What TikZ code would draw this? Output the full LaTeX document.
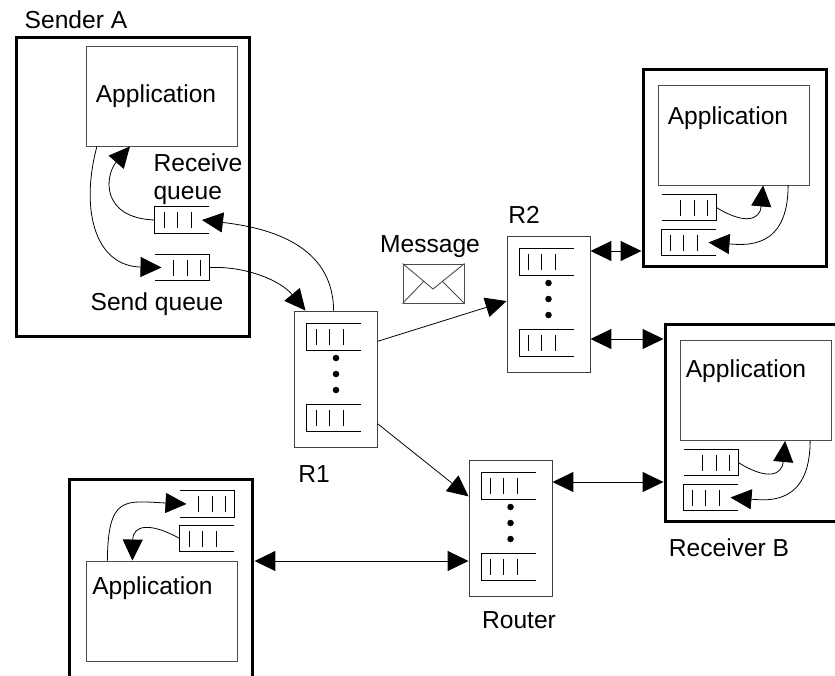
\documentclass[tikz,border=0pt]{standalone}
\usepackage{fontspec}
\setmainfont{Liberation Sans}
\usetikzlibrary{arrows.meta}
\tikzset{
    txt/.style={font=\fontsize{14}{16}\selectfont, inner sep=0pt},
    hostbox/.style={draw, line width=1.7pt, inner sep=0pt},
    appbox/.style={draw=black!70, line width=0.55pt, minimum width=3.02cm, minimum height=2cm, inner sep=0pt},
    routerbox/.style={draw=black!75, line width=0.55pt, minimum width=1.66cm, minimum height=2.72cm, inner sep=0pt},
    queuebox/.style={minimum width=1.08cm, minimum height=0.52cm, inner sep=0pt},
    qline/.style={line width=0.5pt},
    rdot/.style={circle, fill, minimum size=0.13cm, inner sep=0pt},
    link/.style={-{Triangle[length=0.42cm, width=0.4cm]}, line width=0.45pt},
    duplex/.style={{Triangle[length=0.42cm, width=0.4cm]}-{Triangle[length=0.42cm, width=0.4cm]}, line width=0.55pt}
}
% queue closed on the left: name, x, y
\newcommand{\queueleft}[3]{
    \node[queuebox] at (#2, #3) (#1) {};
    \coordinate (#1in) at (#2+20, #3);
    \draw[qline] (#1.north east) -- (#1.north west) -- (#1.south west) -- (#1.south east);
    \draw[qline] (#2-18, #3-8) -- (#2-18, #3+8);
    \draw[qline] (#2-5, #3-8) -- (#2-5, #3+8);
    \draw[qline] (#2+9, #3-8) -- (#2+9, #3+8);
}
% queue closed on the right: name, x, y
\newcommand{\queueright}[3]{
    \node[queuebox] at (#2, #3) (#1) {};
    \coordinate (#1in) at (#2-21, #3);
    \draw[qline] (#1.north west) -- (#1.north east) -- (#1.south east) -- (#1.south west);
    \draw[qline] (#2+18, #3-8) -- (#2+18, #3+8);
    \draw[qline] (#2+5, #3-8) -- (#2+5, #3+8);
    \draw[qline] (#2-9, #3-8) -- (#2-9, #3+8);
}
% router with two queues and three dots: name, x, y
\newcommand{\router}[3]{
    \node[routerbox] at (#2, #3) (#1) {};
    \queueleft{#1a}{#2-2}{#3-42}
    \queueleft{#1b}{#2-2}{#3+39}
    \node[rdot] at (#2, #3-21) (#1d1) {};
    \node[rdot] at (#2, #3-5) (#1d2) {};
    \node[rdot] at (#2, #3+11) (#1d3) {};
}
\begin{document}
\begin{tikzpicture}[x=0.02cm, y=-0.02cm]
    \path[use as bounding box, clip] (0, 0) rectangle (835, 676);

    % hosts
    \node[hostbox, minimum width=4.68cm, minimum height=6cm] at (133, 187) (sender) {};
    \node[hostbox, minimum width=3.68cm, minimum height=3.96cm] at (735, 168) (hosttop) {};
    \node[hostbox, minimum width=3.68cm, minimum height=3.96cm] at (757, 423) (receiver) {};
    \node[hostbox, minimum width=3.68cm, minimum height=4.04cm] at (161, 580) (hostleft) {};

    \node[appbox] at (161.5, 96) (appsender) {};
    \node[appbox] at (734, 135) (apptop) {};
    \node[appbox] at (756, 390.5) (appreceiver) {};
    \node[appbox] at (161.5, 611) (appleft) {};

    \node[txt] at (156, 96) (tsender) {Application};
    \node[txt] at (728, 118) (ttop) {Application};
    \node[txt] at (746, 371) (treceiver) {Application};
    \node[txt] at (152.5, 588) (tleft) {Application};

    % queues
    \queueleft{recvq}{182}{220}
    \queueright{sendq}{182.5}{267.5}
    \queueright{topqa}{689}{207.5}
    \queueleft{topqb}{688.5}{242.5}
    \queueright{recqa}{711}{462.5}
    \queueleft{recqb}{710.5}{497.5}
    \queueright{leftqa}{207.5}{504}
    \queueleft{leftqb}{207}{538.5}

    % routers
    \router{rone}{336}{379}
    \router{rtwo}{548.5}{304}
    \router{rthree}{510.5}{528}

    % envelope
    \node[draw=black!70, line width=0.55pt, minimum width=1.22cm, minimum height=0.78cm, inner sep=0pt] at (433.5, 283.5) (envelope) {};
    \coordinate (flap) at (433, 289);
    \coordinate (foldl) at (424, 281);
    \coordinate (foldr) at (442, 281);
    \draw[qline, draw=black!70] (envelope.north west) -- (flap) -- (envelope.north east);
    \draw[qline, draw=black!70] (envelope.south west) -- (foldl);
    \draw[qline, draw=black!70] (envelope.south east) -- (foldr);

    % labels
    \node[txt] at (76, 20) (lsender) {Sender A};
    \node[txt, align=left] at (198, 179) (lrecv) {Receive\\queue};
    \node[txt] at (157, 304) (lsend) {Send queue};
    \node[txt] at (430, 247) (lmsg) {Message};
    \node[txt] at (524, 215) (lrtwo) {R2};
    \node[txt] at (314, 474) (lrone) {R1};
    \node[txt] at (519, 620) (lrouter) {Router};
    \node[txt] at (729, 548) (lreceiver) {Receiver B};

    % links between routers and hosts
    \draw[link] (rone.42) -- (rtwo.176);
    \draw[link] (rone.-47) -- (rthree.143);
    \draw[duplex] (rtwo.east |- 0, 251) -- (hosttop.west |- 0, 251);
    \draw[duplex] (rtwo.east |- 0, 339) -- (receiver.west |- 0, 339);
    \draw[duplex] (rthree.east |- 0, 482) -- (receiver.west |- 0, 482);
    \draw[duplex] (hostleft.east |- 0, 561) -- (rthree.west |- 0, 561);

    % sender
    \draw[link] (appsender.218) .. controls (80, 210) and (95, 266) .. (sendqin);
    \draw[link] (recvq.west) .. controls (100, 218) and (105, 175) .. (appsender.238);
    \draw[link] (rone.92.5) .. controls (333, 245) and (270, 228) .. (recvqin);
    \draw[link] (sendq.east) .. controls (245, 266) and (280, 280) .. (rone.114.5);

    % host on the top right
    \draw[link] (topqa.east) .. controls (745, 225) and (760, 220) .. (apptop.-60);
    \draw[link] (apptop.-43) .. controls (788, 250) and (745, 245) .. (topqbin);

    % receiver
    \draw[link] (recqa.east) .. controls (767, 480.5) and (782, 475.5) .. (appreceiver.-60);
    \draw[link] (appreceiver.-43) .. controls (810, 505.5) and (767, 500.5) .. (recqbin);

    % host on the bottom left
    \draw[link] (appleft.137) .. controls (108, 495) and (125, 501) .. (leftqain);
    \draw[link] (leftqb.west) .. controls (150, 522) and (133, 525) .. (appleft.120);
\end{tikzpicture}
\end{document}
